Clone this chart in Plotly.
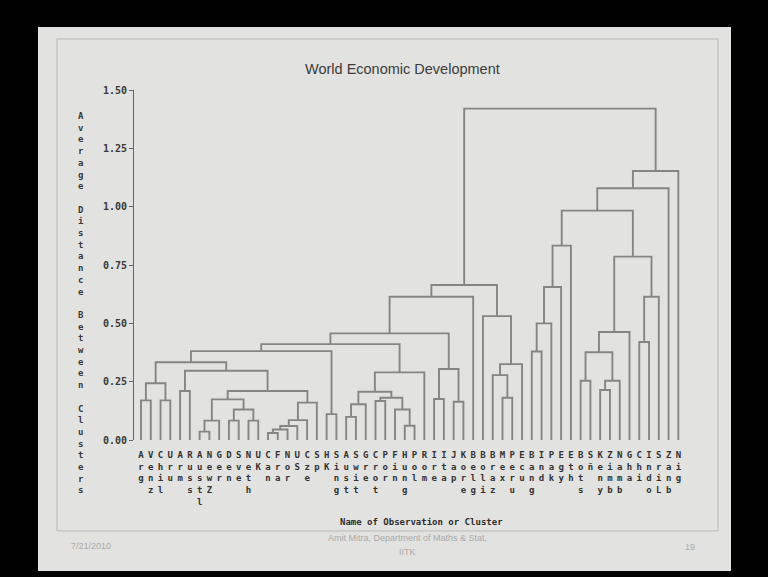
import plotly.graph_objects as go

# ---------------- data ----------------
LABELS = ["Arg", "Venz", "Chil", "Uru", "Arm", "Russ", "Austl", "NewZ", "Ger", "Den",
          "Sve", "Neth", "UK", "Can", "Fra", "Nor", "US", "Cze", "Sp", "HK",
          "Sing", "Aust", "Swit", "Gre", "Crot", "Por", "Fin", "Hung", "Pol", "Rom",
          "Ire", "Ita", "Jap", "Kore", "Belg", "Boli", "Braz", "Mex", "Peru", "Ecu",
          "Bang", "Ind", "Pak", "Egy", "Eth", "Bots", "Sñ", "Keny", "Zimb", "Namb",
          "Gha", "Chi", "Indo", "SriL", "Zanb", "Nig"]

# merges: (left, right, average distance); ints = leaves, "mK" = K-th merge
MERGES = [
    (0, 1, 0.170), (2, 3, 0.170), ("m0", "m1", 0.243), (4, 5, 0.210),
    (6, 7, 0.036), ("m4", 8, 0.083), (9, 10, 0.083), (11, 12, 0.083),
    ("m6", "m7", 0.131), ("m5", "m8", 0.174), (13, 14, 0.030), ("m10", 15, 0.045),
    ("m11", 16, 0.060), ("m12", 17, 0.085), ("m13", 18, 0.160), ("m9", "m14", 0.210),
    ("m3", "m15", 0.297), ("m2", "m16", 0.333), (19, 20, 0.111), ("m17", "m18", 0.381),
    (21, 22, 0.099), ("m20", 23, 0.153), (24, 25, 0.167), (27, 28, 0.061),
    (26, "m23", 0.131), ("m22", "m24", 0.181), ("m21", "m25", 0.207), ("m26", 29, 0.290),
    ("m19", "m27", 0.411), (30, 31, 0.176), (32, 33, 0.164), ("m29", "m30", 0.304),
    ("m28", "m31", 0.457), ("m32", 34, 0.614), (37, 38, 0.181), (36, "m34", 0.278),
    ("m35", 39, 0.325), (35, "m36", 0.531), ("m33", "m37", 0.664), (40, 41, 0.379),
    ("m39", 42, 0.500), ("m40", 43, 0.656), ("m41", 44, 0.833), (45, 46, 0.254),
    (47, 48, 0.214), ("m44", 49, 0.254), ("m43", "m45", 0.376), ("m46", 50, 0.463),
    (51, 52, 0.420), ("m48", 53, 0.614), ("m47", "m49", 0.786), ("m42", "m50", 0.983),
    ("m51", 54, 1.079), ("m52", 55, 1.153), ("m38", "m53", 1.420),
]

Y_TICKS = [0.0, 0.25, 0.5, 0.75, 1.0, 1.25, 1.5]
Y_TICKTEXT = ["0.00", "0.25", "0.50", "0.75", "1.00", "1.25", "1.50"]

TITLE = "World Economic Development"
YTITLE = "Average Distance Between Clusters"
XTITLE = "Name of Observation or Cluster"

# ---------------- layout geometry ----------------
W, H = 768, 577
PL, PR, PT, PB = 134, 690, 90, 440   # plot area in pixels
PW, PH = PR - PL, PB - PT
XR = [-0.716, -0.716 + PW / 9.77]


def px(x):
    return (x - PL) / PW


def py(y):
    return (PB - y) / PH


# ---------------- build dendrogram ----------------
pos, hgt = {}, {}
for i in range(len(LABELS)):
    pos[i], hgt[i] = float(i), 0.0
xs, ys = [], []
for k, (a, b, h) in enumerate(MERGES):
    xa, xb = pos[a], pos[b]
    xs += [xa, xa, xb, xb, None]
    ys += [hgt[a], h, h, hgt[b], None]
    pos["m%d" % k] = (xa + xb) / 2
    hgt["m%d" % k] = h

fig = go.Figure()
fig.add_trace(go.Scatter(x=xs, y=ys, mode="lines",
                         line=dict(color="#858585", width=1.9),
                         hoverinfo="skip", showlegend=False))

MONO = "DejaVu Sans Mono, Liberation Mono, monospace"
fig.update_layout(
    width=W, height=H,
    margin=dict(l=PL, r=W - PR, t=PT, b=H - PB, pad=0),
    paper_bgcolor="#000000",
    plot_bgcolor="rgba(0,0,0,0)",
    showlegend=False,
    xaxis=dict(range=XR, tickmode="array", tickvals=list(range(len(LABELS))),
               ticktext=["<br>".join(list(s)) for s in LABELS],
               tickangle=0, ticks="outside", ticklen=6, tickcolor="rgba(0,0,0,0)",
               showline=False, showgrid=False, zeroline=False,
               tickfont=dict(family=MONO, size=9, color="#333333", weight="bold")),
    yaxis=dict(range=[0, 1.5], tickmode="array", tickvals=Y_TICKS, ticktext=Y_TICKTEXT,
               ticks="outside", ticklen=4, tickcolor="#666", tickwidth=1,
               showline=True, linecolor="#666", linewidth=1,
               showgrid=False, zeroline=False,
               tickfont=dict(family=MONO, size=10, color="#3a3a3a", weight="bold")),
)

shapes = [
    # slide background
    dict(type="rect", xref="paper", yref="paper", x0=px(38), x1=px(731), y0=py(571), y1=py(27),
         fillcolor="#e2e2e0", line=dict(width=0), layer="below"),
    # inner frame
    dict(type="rect", xref="paper", yref="paper", x0=px(57), x1=px(718), y0=py(531), y1=py(39),
         fillcolor="rgba(0,0,0,0)", line=dict(color="#b9b9b9", width=1), layer="below"),
]
fig.update_layout(shapes=shapes)

SANS = "Liberation Sans, Arial, sans-serif"
ann = [
    dict(text=TITLE, x=px(402), y=py(69), font=dict(family=SANS, size=14.5, color="#3c3c3c")),
    dict(text="<br>".join(list(YTITLE)), x=px(81), y=py(303),
         font=dict(family=MONO, size=9, color="#3a3a3a", weight="bold")),
    dict(text=XTITLE, x=px(421), y=py(522), font=dict(family=MONO, size=9, color="#2e2e2e", weight="bold")),
    dict(text="7/21/2010", x=px(91), y=py(546), font=dict(family=SANS, size=9, color="#aaaaaa")),
    dict(text="Amit Mitra, Department of Maths & Stat,", x=px(407), y=py(538),
         font=dict(family=SANS, size=9, color="#aaaaaa")),
    dict(text="IITK", x=px(407), y=py(552), font=dict(family=SANS, size=9, color="#aaaaaa")),
    dict(text="19", x=px(690), y=py(547), font=dict(family=SANS, size=9, color="#aaaaaa")),
]
for a in ann:
    a.update(xref="paper", yref="paper", showarrow=False, xanchor="center", yanchor="middle")
fig.update_layout(annotations=ann)

fig.write_html("out.html")
